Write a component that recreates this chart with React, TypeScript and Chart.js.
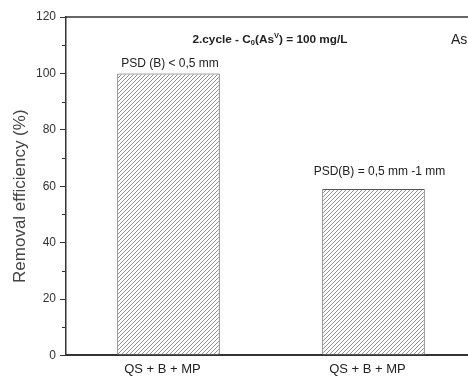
import React, { useEffect, useRef } from 'react';
import { Chart, registerables } from 'chart.js';

Chart.register(...registerables);

// ---- data ----
const categories = ['QS + B + MP', 'QS + B + MP'];
const removalEfficiency = [100, 59];
const barNotes = ['PSD (B) < 0,5 mm', 'PSD(B) = 0,5 mm -1 mm'];
const yMajorTicks = [0, 20, 40, 60, 80, 100, 120];
const yMinorTicks = [10, 30, 50, 70, 90, 110];
const yAxisTitle = 'Removal efficiency (%)';
const headerParts = [
  { t: '2.cycle - C', k: 'n' },
  { t: '0', k: 'sub' },
  { t: '(As', k: 'n' },
  { t: 'V', k: 'sup' },
  { t: ') = 100 mg/L', k: 'n' },
];
const cornerText = 'As';

const FONT = '"Liberation Sans", Arial, sans-serif';

export default function App() {
  const ref = useRef<HTMLCanvasElement | null>(null);

  useEffect(() => {
    const canvas = ref.current!;
    const ctx0 = canvas.getContext('2d')!;
    const tile = document.createElement('canvas');
    tile.width = 4;
    tile.height = 4;
    const tc = tile.getContext('2d')!;
    tc.fillStyle = '#ffffff';
    tc.fillRect(0, 0, 4, 4);
    tc.strokeStyle = '#858585';
    tc.lineWidth = 0.9;
    tc.beginPath();
    tc.moveTo(0, 4); tc.lineTo(4, 0);
    tc.moveTo(-1, 1); tc.lineTo(1, -1);
    tc.moveTo(3, 5); tc.lineTo(5, 3);
    tc.stroke();
    const hatch = ctx0.createPattern(tile, 'repeat');

    const noteOffsets = [{ dx: 1.5, dy: 10 }, { dx: 6, dy: 17 }];

    const decor = {
      id: 'decor',
      afterDraw(chart: any) {
        const { ctx, chartArea } = chart;
        const y = chart.scales.y;
        ctx.save();
        // top frame line
        ctx.strokeStyle = '#333';
        ctx.lineWidth = 1.5;
        ctx.beginPath();
        ctx.moveTo(chartArea.left, chartArea.top);
        ctx.lineTo(chartArea.right + 10, chartArea.top);
        ctx.stroke();
        // minor ticks
        ctx.lineWidth = 1;
        ctx.beginPath();
        yMinorTicks.forEach((v) => {
          const py = Math.round(y.getPixelForValue(v)) + 0.5;
          ctx.moveTo(chartArea.left - 4, py);
          ctx.lineTo(chartArea.left, py);
        });
        ctx.stroke();
        // y axis title
        ctx.fillStyle = '#444';
        ctx.font = `17px ${FONT}`;
        ctx.textAlign = 'center';
        ctx.textBaseline = 'middle';
        ctx.save();
        ctx.translate(12, (chartArea.top + chartArea.bottom) / 2 + 10);
        ctx.rotate(-Math.PI / 2);
        ctx.fillText(yAxisTitle, 0, 0);
        ctx.restore();
        // bar notes
        const meta = chart.getDatasetMeta(0);
        ctx.font = `12px ${FONT}`;
        ctx.fillStyle = '#222';
        meta.data.forEach((bar: any, i: number) => {
          const o = noteOffsets[i] || { dx: 0, dy: 10 };
          ctx.fillText(barNotes[i], bar.x + o.dx, bar.y - o.dy);
        });
        // header with sub/superscripts
        const sizes: any = { n: 11.8, sub: 7.5, sup: 7.5 };
        const shifts: any = { n: 0, sub: 3, sup: -4 };
        let total = 0;
        headerParts.forEach((p) => {
          ctx.font = `bold ${sizes[p.k]}px ${FONT}`;
          total += ctx.measureText(p.t).width;
        });
        let x = chartArea.left + 204 - total / 2;
        const hy = chartArea.top + 23;
        ctx.textAlign = 'left';
        headerParts.forEach((p) => {
          ctx.font = `bold ${sizes[p.k]}px ${FONT}`;
          ctx.fillText(p.t, x, hy + shifts[p.k]);
          x += ctx.measureText(p.t).width;
        });
        ctx.font = `14px ${FONT}`;
        ctx.fillText(cornerText, chartArea.left + 385, hy);
        ctx.restore();
      },
    };

    const chart = new Chart(canvas, {
      type: 'bar',
      data: {
        labels: categories,
        datasets: [
          {
            data: removalEfficiency,
            backgroundColor: hatch as any,
            borderColor: '#555',
            borderWidth: 1,
            borderSkipped: false,
            categoryPercentage: 1,
            barPercentage: 0.5,
          },
        ],
      },
      options: {
        responsive: false,
        animation: false,
        devicePixelRatio: 1,
        layout: { padding: { top: 9, right: 4, bottom: 4, left: 0 } },
        plugins: { legend: { display: false }, tooltip: { enabled: false } },
        scales: {
          x: {
            grid: { display: false, drawTicks: false },
            border: { display: true, color: '#333', width: 2 },
            ticks: {
              color: '#222',
              font: { family: FONT, size: 13 },
              padding: 6,
              labelOffset: -6,
              maxRotation: 0,
            },
          },
          y: {
            min: 0,
            max: 120,
            afterBuildTicks: (s: any) => {
              s.ticks = yMajorTicks.map((v) => ({ value: v }));
            },
            afterFit: (s: any) => {
              s.width = 58;
              s.paddingTop = 0;
              s.paddingBottom = 0;
            },
            grid: { drawOnChartArea: false, drawTicks: true, tickLength: 6, color: '#333' },
            border: { display: true, color: '#333', width: 1.5 },
            ticks: {
              color: '#333',
              font: { family: FONT, size: 12 },
              padding: 4,
            },
          },
        },
      },
      plugins: [decor],
    });
    return () => chart.destroy();
  }, []);

  return (
    <div
      style={{
        position: 'fixed',
        left: 8,
        top: 8,
        width: 460,
        height: 368,
        overflow: 'hidden',
        background: '#fff',
      }}
    >
      <canvas ref={ref} width={472} height={379} style={{ display: 'block' }} />
    </div>
  );
}
